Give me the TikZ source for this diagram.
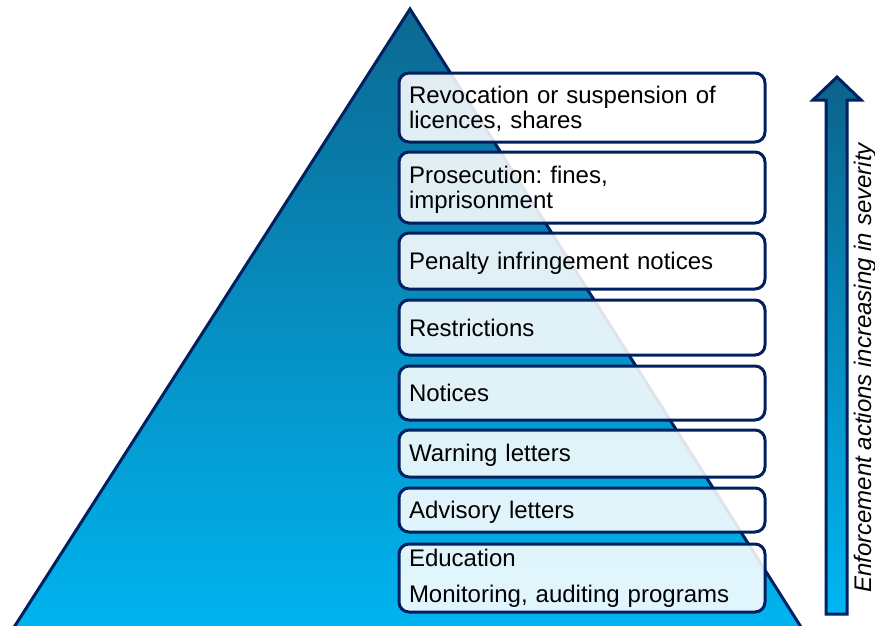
\documentclass[tikz,border=0pt]{standalone}
\usepackage{fontspec}
\setmainfont{Liberation Sans}
\frenchspacing
\definecolor{navy}{RGB}{0,32,96}
\definecolor{topteal}{RGB}{12,104,146}
\definecolor{botcyan}{RGB}{0,182,242}
\tikzset{
  stepbox/.style={draw=navy, line width=3pt, rounded corners=10pt, fill=white, fill opacity=0.88, text opacity=1,
    text width=346pt, align=left, inner xsep=10pt, inner ysep=0pt, minimum width=366pt,
    font=\fontsize{24}{25}\selectfont\frenchspacing, text=black},
  lower/.style={text height=21pt},
  gradfill/.style={top color=topteal, bottom color=botcyan, draw=navy, line width=3pt, line join=miter}
}
\begin{document}
\begin{tikzpicture}[x=1pt, y=-1pt]
\useasboundingbox (0,0) rectangle (875,626);
% pyramid
\path[gradfill] (410,9) -- (813,646) -- (2,646) -- cycle;
% arrow
\path[gradfill, top color=topteal!95!black] (826,614) -- (826,100) -- (813,100) -- (837,77) -- (861,100) -- (847,100) -- (847,614) -- cycle;
% boxes
\node[stepbox, lower, minimum height=69pt] (revoke) at (582,107.5) {Revocation or suspension of\\licences, shares};
\node[stepbox, lower, minimum height=71pt] (prosec) at (582,187.5) {Prosecution: fines,\\imprisonment};
\node[stepbox, lower, minimum height=56pt] (penalty) at (582,261) {Penalty infringement notices};
\node[stepbox, minimum height=55pt] (restrict) at (582,327.5) {Restrictions};
\node[stepbox, minimum height=54pt] (notices) at (582,393) {Notices};
\node[stepbox, lower, minimum height=47pt] (warning) at (582,453.5) {Warning letters};
\node[stepbox, lower, minimum height=44pt] (advisory) at (582,510) {Advisory letters};
\node[stepbox, minimum height=68pt] (educ) at (582,578) {Education\\[11pt]Monitoring, auditing programs};
% rotated label
\node[rotate=90, anchor=base, inner sep=0pt, font=\fontsize{24}{25}\selectfont\itshape] (label) at (871,368) {Enforcement actions increasing in severity};
\end{tikzpicture}
\end{document}
